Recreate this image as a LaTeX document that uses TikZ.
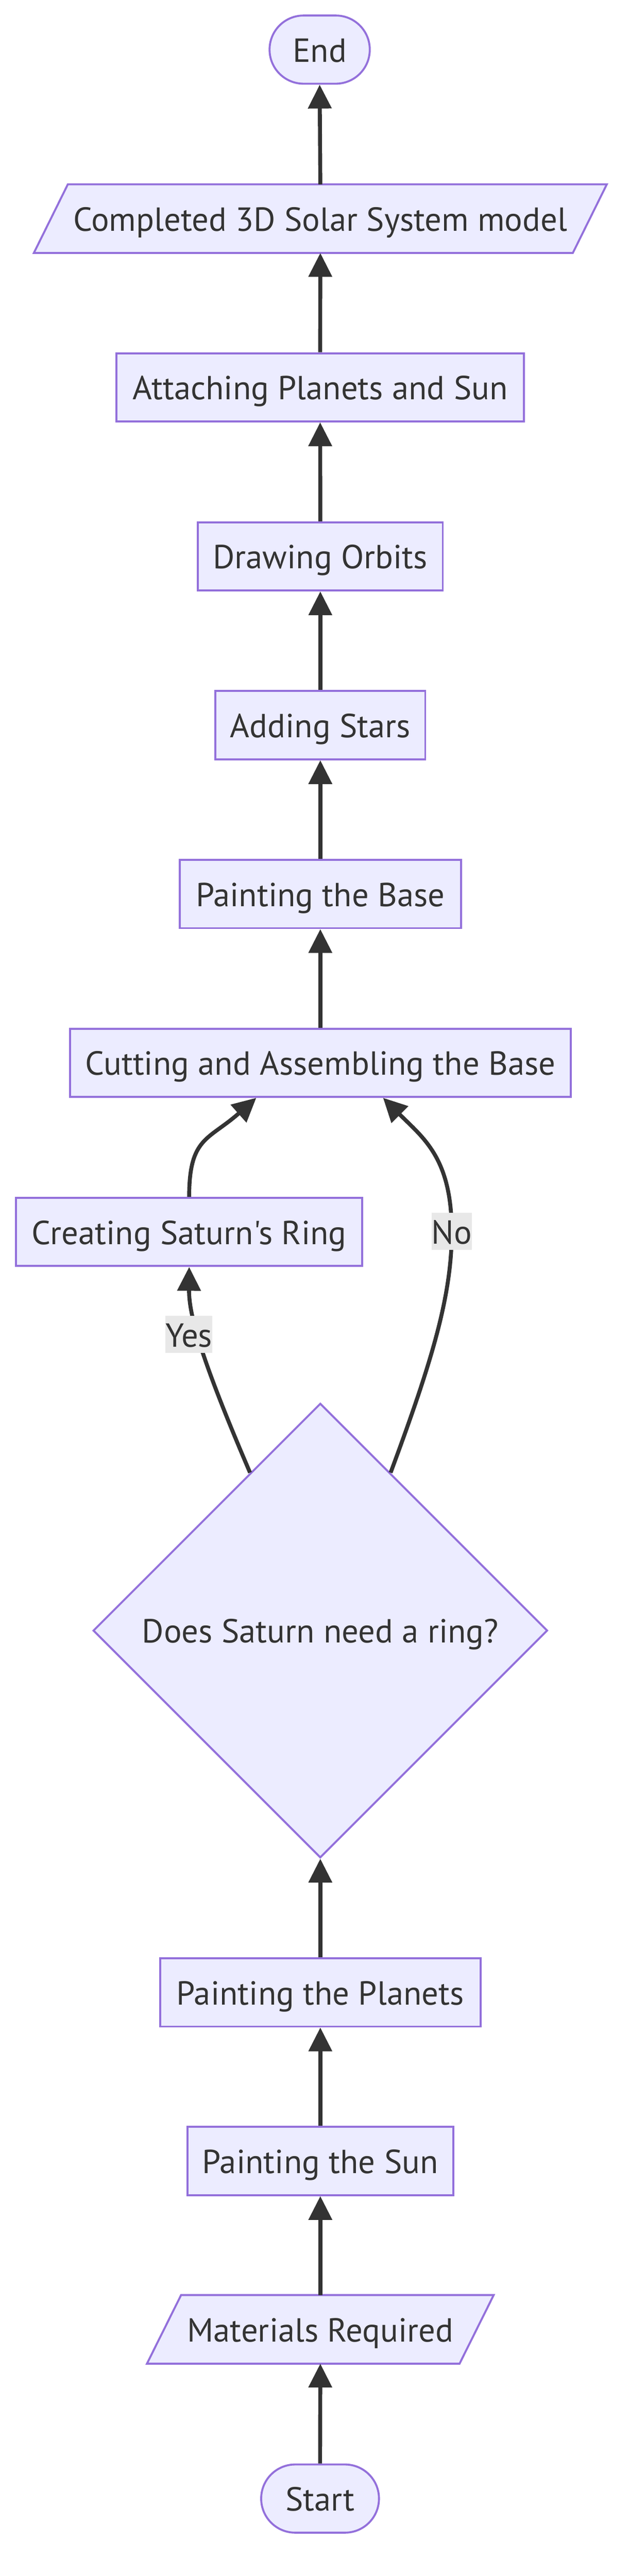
\documentclass[tikz,border=0pt]{standalone}
\usepackage{fontspec}
\newfontfamily\diagfont{PT Sans}
\usetikzlibrary{arrows.meta,shapes.geometric,calc,backgrounds}
\definecolor{nfill}{HTML}{ECECFF}
\definecolor{nstroke}{HTML}{9370DB}
\definecolor{ink}{HTML}{333333}
\definecolor{lblbg}{HTML}{E8E8E8}
\begin{document}
\begin{tikzpicture}[x=1pt,y=-1pt,
  every node/.style={font=\diagfont\fontsize{20.3}{24}\selectfont, text=ink, text height=15pt, text depth=0pt},
  box/.style={draw=nstroke, fill=nfill, line width=1.2pt, inner sep=0pt, minimum height=41.5pt},
  term/.style={box, rounded corners=20.7pt},
  io/.style={inner sep=0pt, minimum height=41.4pt},
  iobg/.style={draw=nstroke, fill=nfill, line width=1.2pt},
  dec/.style={diamond, aspect=1, draw=nstroke, fill=nfill, line width=1.2pt, inner sep=0pt, minimum width=276.6pt, minimum height=276.6pt},
  edge/.style={draw=ink, line width=2.4pt, -{Triangle[length=14.5pt,width=14pt]}},
  elabel/.style={fill=lblbg, inner sep=0pt, minimum height=22.5pt}
]
\useasboundingbox (0,0) rectangle (382.8,1568);

\node[term, minimum width=61pt] (end) at (194.6,30.2) {End};
\node[io, minimum width=327.7pt] (comp) at (195,133.1) {Completed 3D Solar System model};
\node[box, minimum width=248.2pt] (attach) at (194.9,235.75) {Attaching Planets and Sun};
\node[box, minimum width=149.1pt] (orbits) at (195,338.65) {Drawing Orbits};
\node[box, minimum width=127.7pt] (stars) at (195,441.4) {Adding Stars};
\node[box, minimum width=171.1pt] (pbase) at (195,544.2) {Painting the Base};
\node[box, minimum width=304.9pt] (cut) at (195,646.9) {Cutting and Assembling the Base};
\node[box, minimum width=210.7pt] (ring) at (115.15,749.85) {Creating Saturn's Ring};
\node[dec] (dec) at (195,992.5) {Does Saturn need a ring?};
\node[box, minimum width=195.1pt] (planets) at (195,1212.8) {Painting the Planets};
\node[box, minimum width=161.9pt] (sun) at (195,1315.4) {Painting the Sun};
\node[io, minimum width=189.9pt] (mat) at (195,1417.85) {Materials Required};
\node[term, minimum width=71.7pt] (start) at (194.85,1520.85) {Start};

\begin{scope}[on background layer]
\path[iobg] ($(comp.south west)+(-10.35,0)$) -- ($(comp.north west)+(10.35,0)$) -- ($(comp.north east)+(10.35,0)$) -- ($(comp.south east)+(-10.35,0)$) -- cycle;
\path[iobg] ($(mat.south west)+(-10.4,0)$) -- ($(mat.north west)+(10.4,0)$) -- ($(mat.north east)+(10.4,0)$) -- ($(mat.south east)+(-10.4,0)$) -- cycle;
\end{scope}

\draw[edge] (start.north) -- (mat.south);
\draw[edge] (mat.north) -- (sun.south);
\draw[edge] (sun.north) -- (planets.south);
\draw[edge] (planets.north) -- (dec.south);
\draw[edge] (dec.114) .. controls (122,826) and (115,800) .. (ring.south);
\coordinate (nomid) at (275,750);
\draw[edge] (dec.66) .. controls (262,831) and (275,790) .. (nomid) .. controls (275,705) and (258,693) .. ($(cut.south)+(38.2,0)$);
\draw[edge] (ring.north) .. controls (115.15,692) and (127,694) .. ($(cut.south)+(-39,0)$);
\draw[edge] (cut.north) -- (pbase.south);
\draw[edge] (pbase.north) -- (stars.south);
\draw[edge] (stars.north) -- (orbits.south);
\draw[edge] (orbits.north) -- (attach.south);
\draw[edge] (attach.north) -- (comp.south);
\draw[edge] (comp.north) -- (end.south);

\node[elabel, minimum width=27.4pt] (yes) at (115,812.3) {Yes};
\node[elabel, minimum width=23.2pt] (no) at (275,749.6) {No};
\end{tikzpicture}
\end{document}
